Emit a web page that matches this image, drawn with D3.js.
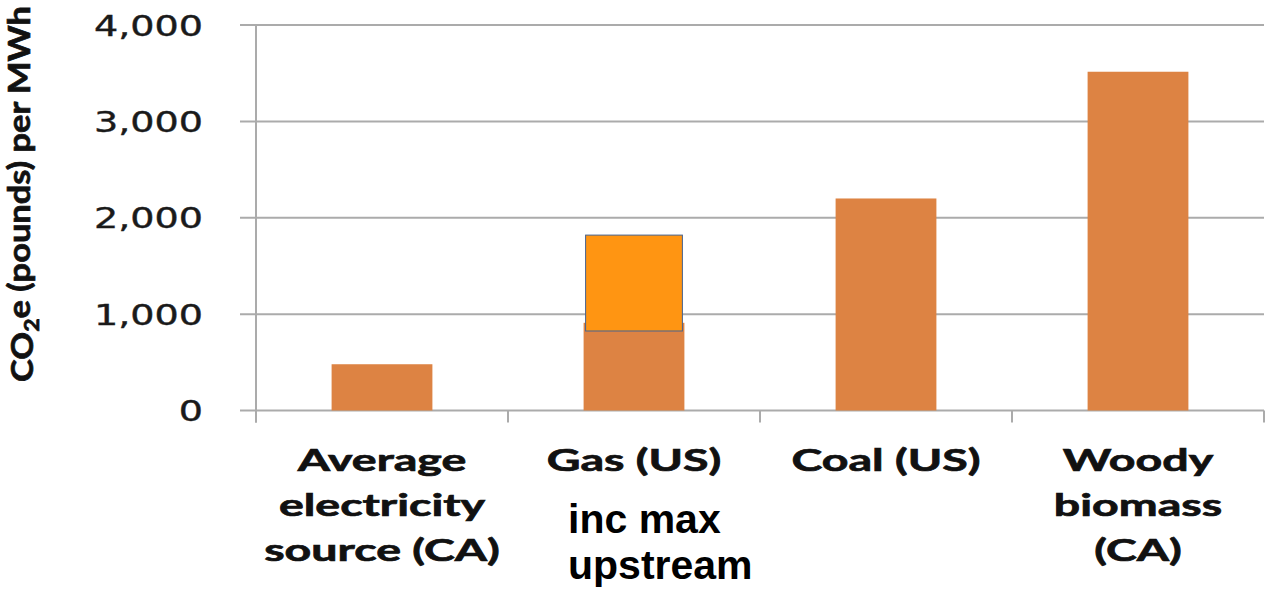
<!DOCTYPE html>
<html>
<head>
<meta charset="utf-8">
<script src="https://cdn.jsdelivr.net/npm/d3@7"></script>
<style>
  html, body { margin: 0; padding: 0; background: #fff; }
  svg { display: block; }
</style>
</head>
<body>
<div id="chart"></div>
<script>
// data
var categories = ["Average electricity source (CA)", "Gas (US)", "Coal (US)", "Woody biomass (CA)"];
var labelLines = [["Average", "electricity", "source (CA)"], ["Gas (US)"], ["Coal (US)"], ["Woody", "biomass", "(CA)"]];
var values = [480, 910, 2200, 3515];
var gasUpstream = [825, 1820];   // low, high of the added box over the gas bar
var yTicks = [0, 1000, 2000, 3000, 4000];
var noteLines = ["inc max", "upstream"];

(function () {
  var width = 1272;
  var height = 596;

  var svg = d3.select("#chart")
    .append("svg")
    .attr("width", width)
    .attr("height", height);

  var left = 256, right = 1264, top = 25, bottom = 410.5;

  var x = d3.scaleBand().domain(categories).range([left, right])
    .paddingInner(0.6).paddingOuter(0.3);
  var y = d3.scaleLinear().domain([0, 4000]).range([bottom, top]);

  // gridlines (with small stub left of the axis)
  svg.append("g").selectAll("line")
    .data(yTicks)
    .enter().append("line")
    .attr("x1", left - 16).attr("x2", right)
    .attr("y1", function (d) { return y(d); })
    .attr("y2", function (d) { return y(d); })
    .attr("stroke", "#ababab")
    .attr("stroke-width", 2);

  // y axis line
  svg.append("line")
    .attr("x1", left).attr("x2", left)
    .attr("y1", y(4000)).attr("y2", bottom + 12)
    .attr("stroke", "#ababab").attr("stroke-width", 2);

  // category separators under the axis
  svg.append("g").selectAll("line")
    .data(d3.range(categories.length + 1))
    .enter().append("line")
    .attr("x1", function (i) { return x.range()[0] + i * x.step(); })
    .attr("x2", function (i) { return x.range()[0] + i * x.step(); })
    .attr("y1", bottom).attr("y2", bottom + 12)
    .attr("stroke", "#ababab").attr("stroke-width", 2);

  // y tick labels
  var yAxis = svg.append("g")
    .attr("transform", "translate(" + left + ",0)")
    .call(d3.axisLeft(y).tickValues(yTicks).tickSize(0).tickFormat(d3.format(",")));
  yAxis.select(".domain").remove();
  yAxis.selectAll("text")
    .attr("x", 0)
    .attr("dy", "0.36em")
    .attr("transform", "translate(-53,0) scale(1.36,1)")
    .style("font-family", "'DejaVu Sans', sans-serif")
    .style("font-size", "28px")
    .attr("fill", "#1a1a1a")
    .attr("stroke", "#1a1a1a")
    .attr("stroke-width", 0.4);

  // bars
  svg.append("g").selectAll("rect")
    .data(values)
    .enter().append("rect")
    .attr("x", function (d, i) { return x(categories[i]); })
    .attr("width", x.bandwidth())
    .attr("y", function (d) { return y(d); })
    .attr("height", function (d) { return bottom - y(d); })
    .attr("fill", "#dd8343");

  // upstream box on the gas bar
  svg.append("rect")
    .attr("x", x("Gas (US)") + 2)
    .attr("width", x.bandwidth() - 4)
    .attr("y", y(gasUpstream[1]))
    .attr("height", y(gasUpstream[0]) - y(gasUpstream[1]))
    .attr("fill", "#ff9512")
    .attr("stroke", "#45628f")
    .attr("stroke-width", 1);

  // category labels
  var xAxis = svg.append("g")
    .attr("transform", "translate(0," + bottom + ")")
    .call(d3.axisBottom(x).tickSize(0).tickFormat(""));
  xAxis.select(".domain").remove();
  xAxis.selectAll(".tick").each(function (d, i) {
    var t = d3.select(this).select("text")
      .attr("y", 0).attr("dy", null)
      .attr("transform", "scale(1.5,1)")
      .style("font-family", "Lato, sans-serif")
      .style("font-weight", "bold")
      .style("font-size", "31px")
      .attr("fill", "#111")
      .attr("stroke", "#111")
      .attr("stroke-width", 0.7);
    t.selectAll("tspan")
      .data(labelLines[i])
      .enter().append("tspan")
      .attr("x", 0)
      .attr("y", function (s, j) { return 61 + j * 45; })
      .text(function (s) { return s; });
  });

  // note under the gas label
  svg.append("text")
    .style("font-family", "'Liberation Sans', Arial, sans-serif")
    .style("font-weight", "bold")
    .style("font-size", "41px")
    .attr("fill", "#000")
    .selectAll("tspan")
    .data(noteLines)
    .enter().append("tspan")
    .attr("x", 568)
    .attr("y", function (s, j) { return 533 + j * 46; })
    .text(function (s) { return s; });

  // y axis title, stretched along its length to fill the axis height
  var title = svg.append("text")
    .attr("text-anchor", "middle")
    .style("font-family", "Lato, sans-serif")
    .style("font-weight", "bold")
    .style("font-size", "30px")
    .attr("fill", "#111")
    .attr("stroke", "#111")
    .attr("stroke-width", 0.7);
  title.append("tspan").text("CO");
  title.append("tspan").attr("dy", "0.3em").style("font-size", "20px").text("2");
  title.append("tspan").attr("dy", "-0.3em").text("e (pounds) per MWh");
  var len = title.node().getComputedTextLength();
  title.attr("transform", "translate(33,194) rotate(-90) scale(" + (376 / len) + ",1)");
})();
</script>
</body>
</html>
